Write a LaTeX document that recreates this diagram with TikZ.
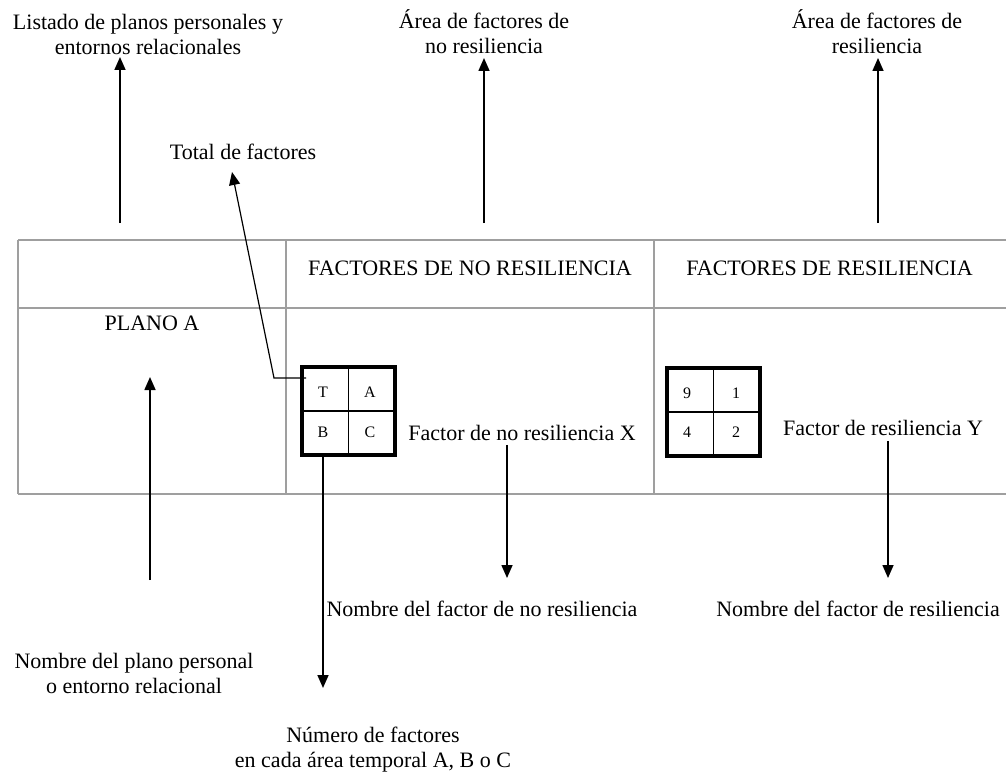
\documentclass[tikz,border=0pt]{standalone}
\usepackage{fontspec}
\setmainfont{Liberation Serif}
\usetikzlibrary{arrows.meta}
\begin{document}
\begin{tikzpicture}[x=1pt,y=-1pt,
  tbl/.style={draw=gray!75, line width=1.6pt},
  arr/.style={draw=black, line width=1.6pt, -{Triangle[length=13pt,width=11pt]}},
  lbl/.style={font=\fontsize{22}{25}\selectfont, align=center, inner sep=0pt},
  cell/.style={font=\fontsize{16}{18}\selectfont, inner sep=0pt},
  fbox/.style={draw=black, line width=4pt, minimum width=93pt, minimum height=88pt, inner sep=0pt},
  thin/.style={draw=black, line width=1.2pt}
]
\useasboundingbox (0,0) rectangle (1006,773);
\fill[white] (0,0) rectangle (1006,773);

% table
\draw[tbl] (18,240) -- (1006,240);
\draw[tbl] (18,308) -- (1006,308);
\draw[tbl] (18,494) -- (1006,494);
\draw[tbl] (18,240) -- (18,494);
\draw[tbl] (286,240) -- (286,494);
\draw[tbl] (654,240) -- (654,494);

% header / cell texts
\node[lbl] (hnr) at (470,268) {FACTORES DE NO RESILIENCIA};
\node[lbl] (hr) at (829.5,268) {FACTORES DE RESILIENCIA};
\node[lbl] (plano) at (152,323) {PLANO A};
\node[lbl] (fx) at (522,433) {Factor de no resiliencia X};
\node[lbl] (fy) at (883,428) {Factor de resiliencia Y};

% factor boxes
\node[fbox] (b1) at (348.5,411) {};
\draw[thin] (b1.north) -- (b1.south);
\draw[thin] (b1.west) -- (b1.east);
\node[cell] (b1t) at ([shift={(-25.5,-19)}]b1.center) {T};
\node[cell] (b1a) at ([shift={(21.5,-19)}]b1.center) {A};
\node[cell] (b1b) at ([shift={(-25.5,21)}]b1.center) {B};
\node[cell] (b1c) at ([shift={(21.5,21)}]b1.center) {C};

\node[fbox] (b2) at (713.5,412) {};
\draw[thin] (b2.north) -- (b2.south);
\draw[thin] (b2.west) -- (b2.east);
\node[cell] (b29) at ([shift={(-26.5,-19)}]b2.center) {9};
\node[cell] (b21) at ([shift={(22.5,-19)}]b2.center) {1};
\node[cell] (b24) at ([shift={(-26.5,20)}]b2.center) {4};
\node[cell] (b22) at ([shift={(22.5,20)}]b2.center) {2};

% outer labels
\node[lbl] (lst) at (148,34) {Listado de planos personales y\\entornos relacionales};
\node[lbl] (anr) at (484,32) {Área de factores de\\no resiliencia};
\node[lbl] (ar) at (877,32) {Área de factores de\\resiliencia};
\node[lbl] (tot) at (243,152) {Total de factores};
\node[lbl] (npl) at (134,673) {Nombre del plano personal\\o entorno relacional};
\node[lbl] (nfx) at (482,609) {Nombre del factor de no resiliencia};
\node[lbl] (nfy) at (858,609) {Nombre del factor de resiliencia};
\node[lbl] (num) at (373,750) {Número de factores\\en cada área temporal A, B o C};

% arrow end points
\coordinate (a1s) at (120,223);
\coordinate (a1t) at (120,57);
\coordinate (a2s) at (484,223);
\coordinate (a2t) at (484,58);
\coordinate (a3s) at (878,223);
\coordinate (a3t) at (878,58);
\coordinate (tk) at (274,378);
\coordinate (tt) at (232,172);
\coordinate (ps) at (150,580);
\coordinate (pt) at (150,377);
\coordinate (nt) at (323,688);
\coordinate (xt) at (507,578);
\coordinate (yt) at (888,578);

% arrows
\draw[arr] (a1s) -- (a1t);
\draw[arr] (a2s) -- (a2t);
\draw[arr] (a3s) -- (a3t);
\draw[arr, line width=1.2pt] ([xshift=6pt]b1.west |- tk) -- (tk) -- (tt);
\draw[arr] (ps) -- (pt);
\draw[arr] (b1.south -| nt) -- (nt);
\draw[arr] ([yshift=-4pt]fx.south -| xt) -- (xt);
\draw[arr] ([yshift=-5pt]fy.south -| yt) -- (yt);
\end{tikzpicture}
\end{document}
